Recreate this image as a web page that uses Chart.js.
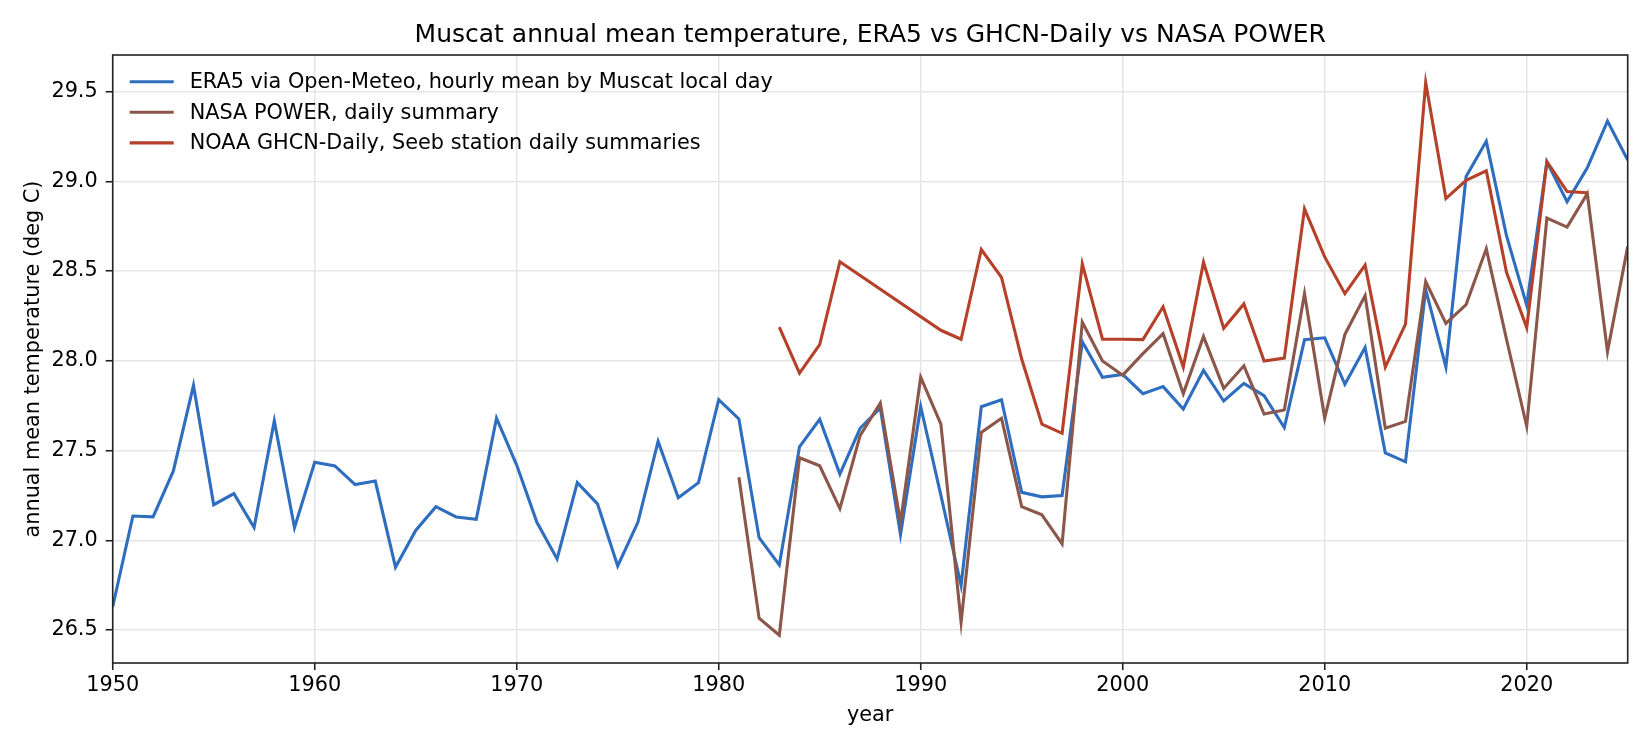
<!DOCTYPE html>
<html>
<head>
<meta charset="utf-8">
<title>Muscat annual mean temperature</title>
<script src="https://cdn.jsdelivr.net/npm/chart.js@4.4.1/dist/chart.umd.min.js"></script>
<style>
  html, body { margin: 0; padding: 0; background: #fff; }
  canvas { display: block; }
</style>
</head>
<body>
<canvas id="chart" width="1650" height="750"></canvas>
<script>
/* Muscat annual mean temperature: ERA5 vs GHCN-Daily vs NASA POWER */
function span(a, b) {
  const out = [];
  for (let y = a; y <= b; y++) out.push(y);
  return out;
}

const ERA5_YEARS = span(1950, 2025);
const ERA5_TEMP = [
  26.63, 27.135, 27.13, 27.385, 27.863, 27.198, 27.26, 27.071, 27.665, 27.07,
  27.435, 27.414, 27.31, 27.33, 26.85, 27.055, 27.187, 27.13, 27.117, 27.68,
  27.419, 27.1, 26.896, 27.321, 27.203, 26.857, 27.1, 27.551, 27.237, 27.321,
  27.783, 27.676, 27.014, 26.862, 27.521, 27.674, 27.369, 27.624, 27.737, 27.032,
  27.744, 27.25, 26.748, 27.744, 27.783, 27.267, 27.242, 27.249, 28.106, 27.908,
  27.924, 27.817, 27.856, 27.731, 27.947, 27.776, 27.874, 27.806, 27.628, 28.117,
  28.128, 27.869, 28.074, 27.487, 27.437, 28.397, 27.965, 29.027, 29.223, 28.697,
  28.31, 29.109, 28.886, 29.075, 29.336, 29.118,
];

const NASA_YEARS = span(1981, 2025);
const NASA_TEMP = [
  27.351, 26.566, 26.471, 27.46, 27.415, 27.176, 27.583, 27.765, 27.1,
  27.908, 27.647, 26.543, 27.601, 27.68, 27.187, 27.142, 26.98, 28.215, 27.999,
  27.92, 28.04, 28.151, 27.817, 28.135, 27.846, 27.972, 27.703, 27.726, 28.374,
  27.681, 28.147, 28.363, 27.624, 27.662, 28.442, 28.208, 28.313, 28.624, 28.12,
  27.635, 28.795, 28.745, 28.931, 28.051, 28.636,
];

// station record has no years 1987-1990
const GHCN_YEARS = [1983, 1984, 1985, 1986].concat(span(1991, 2023));
const GHCN_TEMP = [
  28.188, 27.931, 28.09, 28.552,
  28.17, 28.12, 28.62, 28.465, 28.01, 27.647, 27.596, 28.54, 28.12,
  28.12, 28.118, 28.301, 27.965, 28.549, 28.181, 28.317, 27.999, 28.015, 28.847,
  28.579, 28.374, 28.533, 27.965, 28.204, 29.55, 28.904, 29.006, 29.059, 28.493,
  28.185, 29.11, 28.943, 28.936,
];

const X_TICKS = [1950, 1960, 1970, 1980, 1990, 2000, 2010, 2020];
const Y_TICKS = [26.5, 27.0, 27.5, 28.0, 28.5, 29.0, 29.5];

const LABELS = [
  "ERA5 via Open-Meteo, hourly mean by Muscat local day",
  "NASA POWER, daily summary",
  "NOAA GHCN-Daily, Seeb station daily summaries",
];
const COLORS = ["#2f6ebf", "#8c574b", "#b5412a"];

const FONT = "'DejaVu Sans', sans-serif";
const FS = 20.8;
const AXIS = "#222222";
const GRID = "#e6e6e6";

function toPoints(xs, ys) {
  return xs.map((x, i) => ({ x: x, y: ys[i] }));
}

const frameAndLegend = {
  id: "frameAndLegend",
  afterDatasetsDraw(chart) {
    const { ctx, chartArea: a } = chart;
    ctx.save();
    ctx.strokeStyle = AXIS;
    ctx.lineWidth = 1.6;
    ctx.strokeRect(a.left, a.top, a.right - a.left, a.bottom - a.top);

    ctx.font = `${FS}px ${FONT}`;
    ctx.textBaseline = "middle";
    ctx.textAlign = "left";
    chart.data.datasets.forEach((ds, i) => {
      const y = a.top + 26.7 + i * 30.6;
      ctx.strokeStyle = ds.borderColor;
      ctx.lineWidth = ds.borderWidth;
      ctx.beginPath();
      ctx.moveTo(a.left + 17, y);
      ctx.lineTo(a.left + 61, y);
      ctx.stroke();
      ctx.fillStyle = "#000";
      ctx.fillText(ds.label, a.left + 77, y + 1);
    });
    ctx.restore();
  },
};

Chart.defaults.font.family = FONT;
Chart.defaults.font.size = FS;
Chart.defaults.color = "#000";

new Chart(document.getElementById("chart"), {
  type: "line",
  data: {
    datasets: [
      { label: LABELS[0], data: toPoints(ERA5_YEARS, ERA5_TEMP), borderColor: COLORS[0], order: 2 },
      { label: LABELS[1], data: toPoints(NASA_YEARS, NASA_TEMP), borderColor: COLORS[1], order: 1 },
      { label: LABELS[2], data: toPoints(GHCN_YEARS, GHCN_TEMP), borderColor: COLORS[2], order: 0 },
    ].map((d) => Object.assign(d, { borderWidth: 3.1, pointRadius: 0, tension: 0, fill: false })),
  },
  options: {
    responsive: false,
    devicePixelRatio: 1,
    animation: false,
    layout: { padding: { left: 0, right: 22.3, top: 0, bottom: 0 } },
    plugins: {
      legend: { display: false },
      tooltip: { enabled: false },
      title: {
        display: true,
        fullSize: false,
        text: "Muscat annual mean temperature, ERA5 vs GHCN-Daily vs NASA POWER",
        font: { size: 25, weight: "normal" },
        color: "#000",
        padding: { top: 20, bottom: 5 },
      },
    },
    scales: {
      x: {
        type: "linear",
        min: 1950,
        max: 2025,
        afterBuildTicks: (s) => (s.ticks = X_TICKS.map((v) => ({ value: v }))),
        afterFit: (s) => (s.height = 87),
        ticks: { callback: (v) => String(v), padding: 3, maxRotation: 0 },
        grid: { color: GRID, lineWidth: 1.5, tickColor: AXIS, tickWidth: 1.6, tickLength: 7 },
        border: { display: false },
        title: { display: true, text: "year", padding: { top: 0, bottom: 22 } },
      },
      y: {
        min: 26.316,
        max: 29.704,
        afterBuildTicks: (s) => (s.ticks = Y_TICKS.map((v) => ({ value: v }))),
        afterFit: (s) => (s.width = 112.7),
        ticks: { callback: (v) => v.toFixed(1), padding: 8 },
        grid: { color: GRID, lineWidth: 1.5, tickColor: AXIS, tickWidth: 1.6, tickLength: 7 },
        border: { display: false },
        title: { display: true, text: "annual mean temperature (deg C)", padding: { top: 21, bottom: 0 } },
      },
    },
  },
  plugins: [frameAndLegend],
});
</script>
</body>
</html>
